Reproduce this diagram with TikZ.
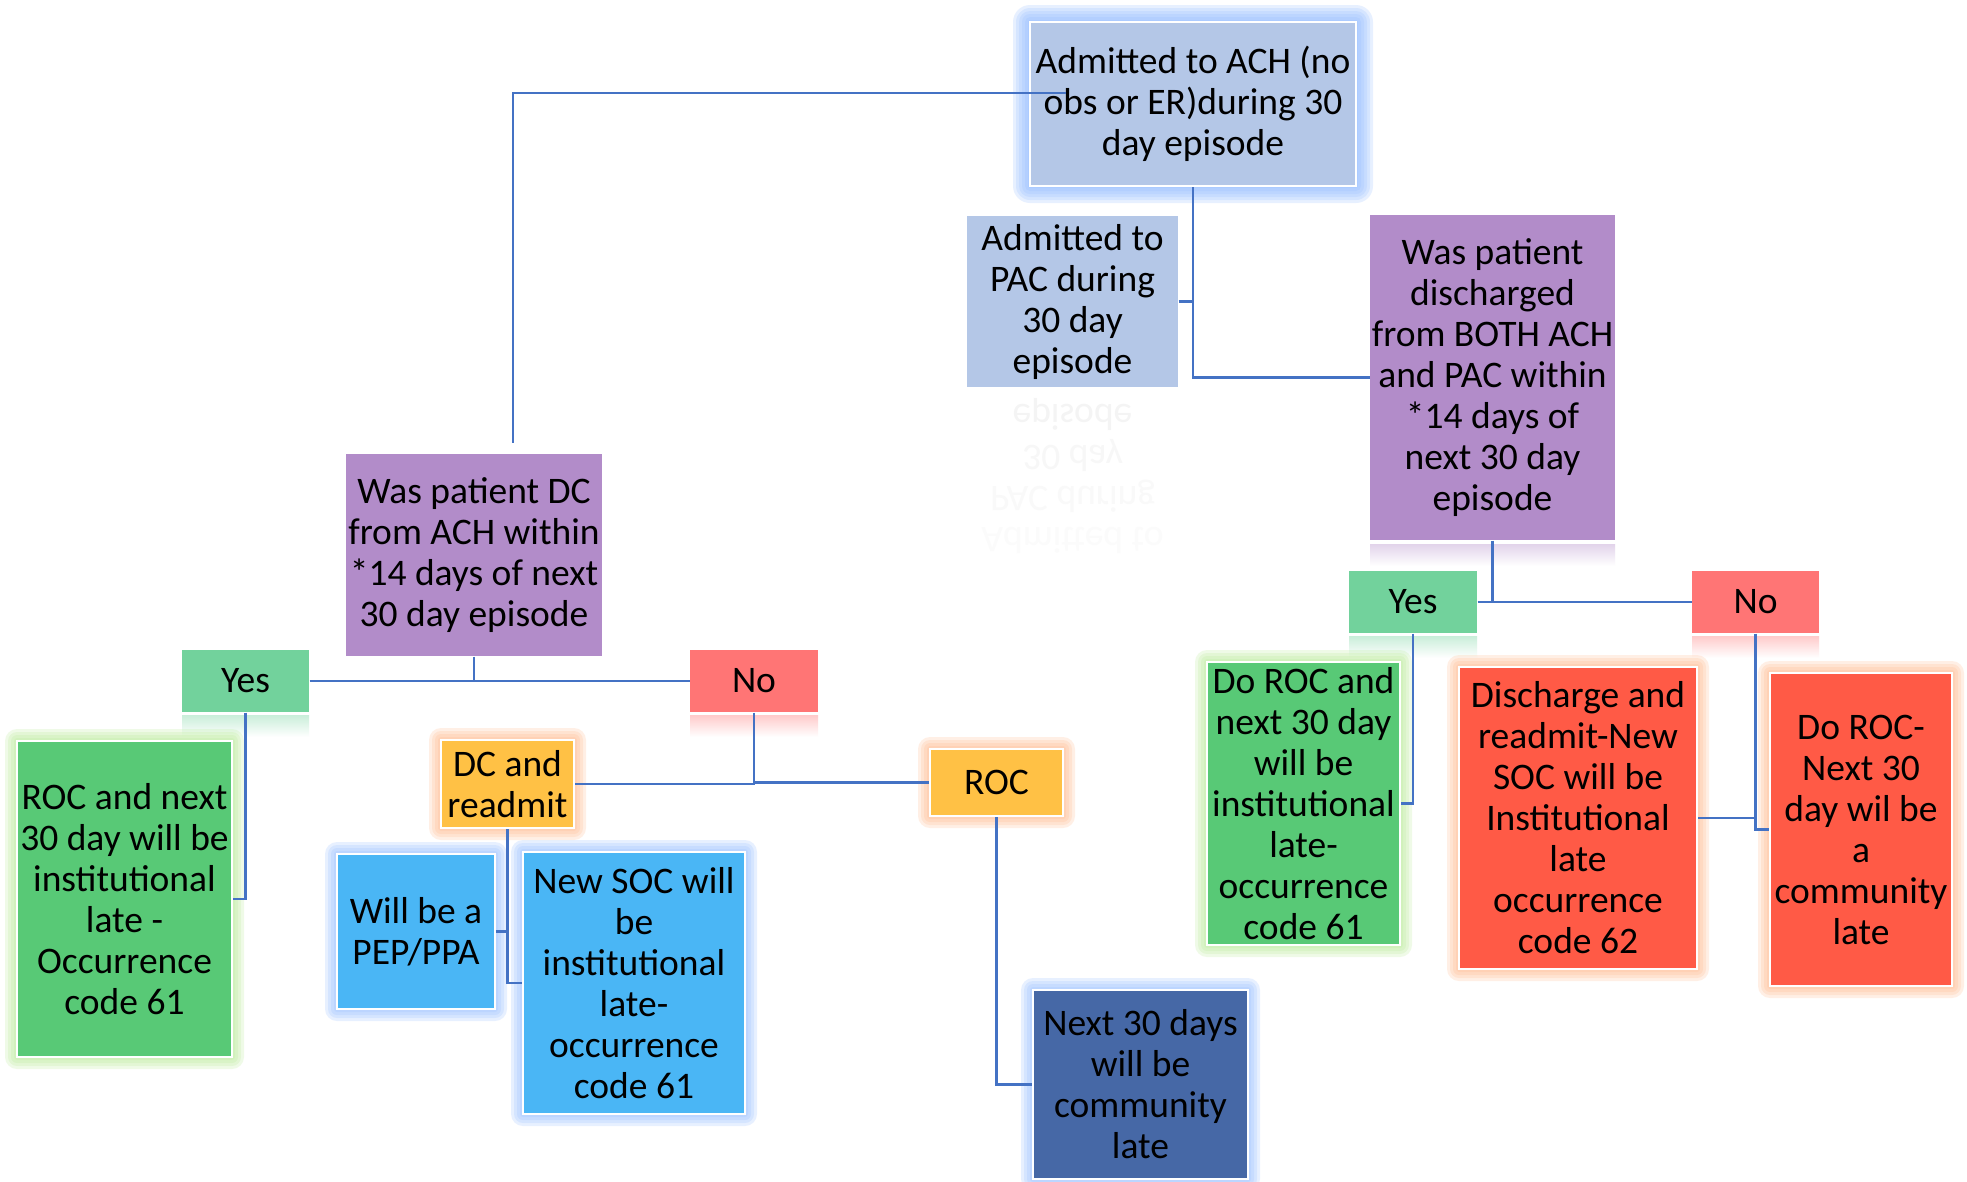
\documentclass[tikz,border=0pt]{standalone}
\usepackage{fontspec}
\setmainfont{Carlito}
\usetikzlibrary{calc}
\definecolor{topfill}{RGB}{180,199,231}
\definecolor{glowblue}{RGB}{150,190,255}
\definecolor{purp}{RGB}{178,140,201}
\definecolor{yesgreen}{RGB}{114,210,156}
\definecolor{nored}{RGB}{255,117,117}
\definecolor{boxgreen}{RGB}{88,201,118}
\definecolor{glowgreen}{RGB}{185,236,150}
\definecolor{amber}{RGB}{255,193,69}
\definecolor{gloworange}{RGB}{255,185,140}
\definecolor{skyblue}{RGB}{74,182,245}
\definecolor{navy}{RGB}{70,104,166}
\definecolor{tomato}{RGB}{255,90,70}
\definecolor{linecol}{RGB}{68,114,196}
\tikzset{
  boxtext/.style={inner sep=0pt, align=center, text=black, font=\fontsize{15}{16.4}\selectfont},
  framed/.style={draw=white, line width=1.1pt},
  conn/.style={draw=linecol, line width=1.1pt},
  refltext/.style={inner sep=0pt, font=\fontsize{15}{16.4}\selectfont, text height=11pt, text depth=4pt, yscale=-1, transform shape},
}
\newcommand\flatbox[7]{%
  \pgfmathsetmacro\bw{(#4-#2)*0.4}%
  \pgfmathsetmacro\bh{(#5-#3)*0.4}%
  \node[boxtext, #6, minimum width=\bw pt, minimum height=\bh pt] (#1) at ({(#2+#4)/2},{(#3+#5)/2}) {#7};}
\newcommand\glowbox[9]{%
  \foreach \g in {#8}{\fill[#7, opacity=0.22, rounded corners=\g*0.4pt] ({#2-\g},{#3-\g}) rectangle ({#4+\g},{#5+\g});}%
  \flatbox{#1}{#2}{#3}{#4}{#5}{#6, framed}{#9}}
\newcommand\reflect[4]{%
  \shade[top color=#4!38!white, bottom color=white] (#1,#2) rectangle (#3,{#2+22});}
\begin{document}
\begin{tikzpicture}[x=0.4pt, y=-0.4pt]
\useasboundingbox (0,0) rectangle (1967,1181);
\fill[white] (0,0) rectangle (1967,1181);

% reflections
\reflect{1370}{544}{1615}{purp}
\reflect{182}{715}{309}{yesgreen}
\reflect{690}{715}{818}{nored}
\reflect{1349}{636}{1477}{yesgreen}
\reflect{1692}{636}{1819}{nored}
\node[refltext, text=black!4.5] (r1) at (1072.5,413) {episode};
\node[refltext, text=black!3.2] (r2) at (1072.5,454) {30 day};
\node[refltext, text=black!2.2] (r3) at (1072.5,495) {PAC during};
\node[refltext, text=black!1.4] (r4) at (1072.5,536) {Admitted to};

% boxes
\glowbox{top}{1030}{22}{1356}{186}{fill=topfill}{glowblue}{2,5,8,11,14,17}{Admitted to ACH (no\\obs or ER)during 30\\day episode}
\flatbox{pac}{967}{216}{1178}{387}{fill=topfill}{Admitted to\\PAC during\\30 day\\episode}
\flatbox{rp}{1370}{215}{1615}{540}{fill=purp}{Was patient\\discharged\\from BOTH ACH\\and PAC within\\*14 days of\\next 30 day\\episode}
\flatbox{lp}{346}{454}{602}{656}{fill=purp}{Was patient DC\\from ACH within\\*14 days of next\\30 day episode}
\flatbox{ly}{182}{650}{309}{712}{fill=yesgreen}{Yes}
\flatbox{ln}{690}{650}{818}{712}{fill=nored}{No}
\flatbox{ry}{1349}{571}{1477}{633}{fill=yesgreen}{Yes}
\flatbox{rn}{1692}{571}{1819}{633}{fill=nored}{No}
\glowbox{gl}{17}{741}{232}{1057}{fill=boxgreen}{glowgreen}{3,6,9,12}{ROC and next\\30 day will be\\institutional\\late -\\Occurrence\\code 61}
\glowbox{dc}{441}{740}{574}{828}{fill=amber}{gloworange}{3,6,9,12}{DC and\\readmit}
\glowbox{pep}{337}{854}{495}{1009}{fill=skyblue}{glowblue}{3,6,9,12}{Will be a\\PEP/PPA}
\glowbox{nsoc}{523}{852}{745}{1114}{fill=skyblue}{glowblue}{3,6,9,12}{New SOC will\\be\\institutional\\late-\\occurrence\\code 61}
\glowbox{roc}{930}{749}{1063}{816}{fill=amber}{gloworange}{3,6,9,12}{ROC}
\glowbox{nthirty}{1033}{990}{1248}{1179}{fill=navy}{glowblue}{3,6,9,12}{Next 30 days\\will be\\community\\late}
\glowbox{gr}{1207}{662}{1400}{945}{fill=boxgreen}{glowgreen}{3,6,9,12}{Do ROC and\\next 30 day\\will be\\institutional\\late-\\occurrence\\code 61}
\glowbox{rm}{1459}{667}{1697}{969}{fill=tomato}{gloworange}{3,6,9,12}{Discharge and\\readmit-New\\SOC will be\\Institutional\\late\\occurrence\\code 62}
\glowbox{rr}{1770}{673}{1952}{986}{fill=tomato}{gloworange}{3,6,9,12}{Do ROC-\\Next 30\\day wil be\\a\\community\\late}

% connectors
\coordinate (tl) at ($(top.west)+(37,-11)$);
\coordinate (lptop) at ($(lp.north)+(39,-11)$);
\draw[conn] (tl) -| (lptop);
\draw[conn] (top.south) |- (rp.west);
\draw[conn] (pac.east) -- (pac.east -| top.south);
\draw[conn] (rp.south) -- (rp.south |- ry.east);
\draw[conn] (ry.east) -- (rn.west);
\draw[conn] (ry.south) |- (gr.east);
\draw[conn] (rn.south) |- (rr.west);
\draw[conn] (rm.east) -- (rm.east -| rn.south);
\draw[conn] (lp.south) -- (lp.south |- ly.east);
\draw[conn] (ly.east) -- (ln.west);
\draw[conn] (ly.south) |- (gl.east);
\draw[conn] (ln.south) |- (dc.east);
\draw[conn] (ln.south |- roc.west) -- (roc.west);
\draw[conn] (dc.south) |- (nsoc.west);
\draw[conn] (pep.east) -- (pep.east -| dc.south);
\draw[conn] (roc.south) |- (nthirty.west);
\end{tikzpicture}
\end{document}
